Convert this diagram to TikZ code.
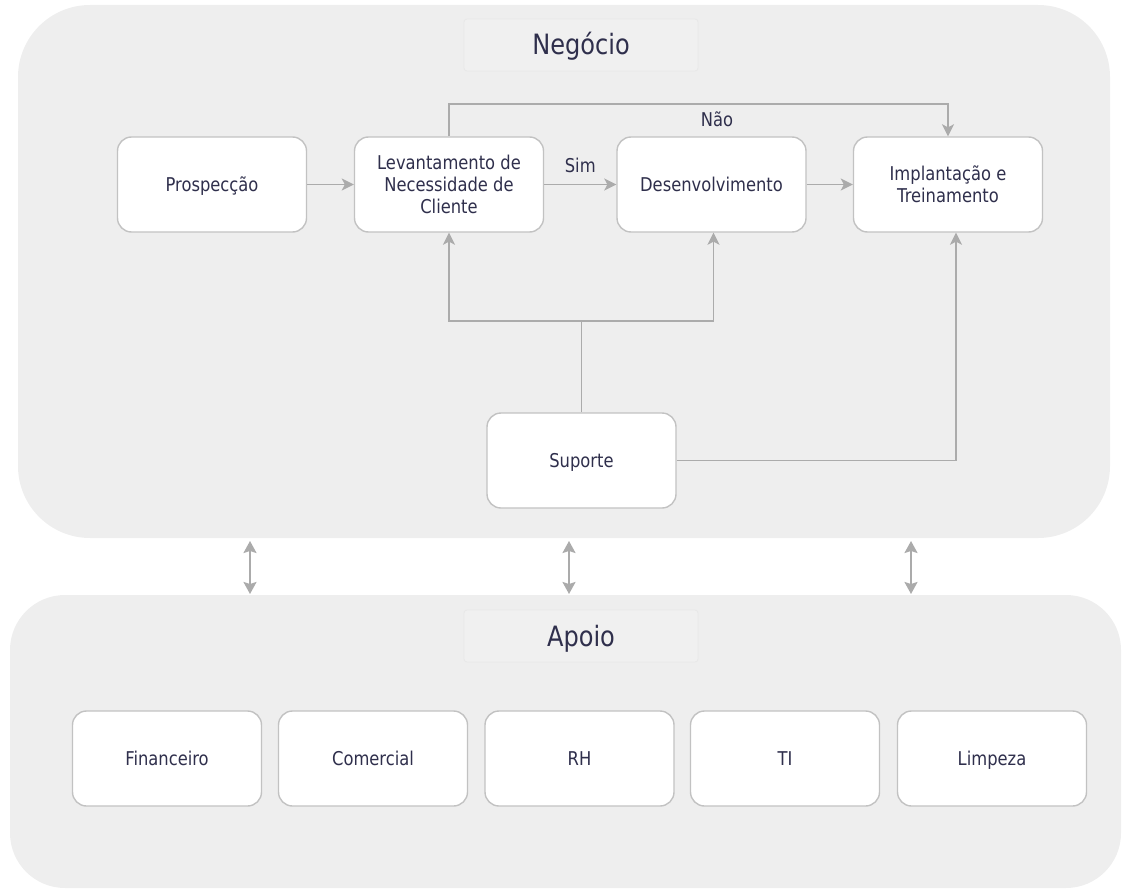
\documentclass[tikz,border=0pt]{standalone}
\usepackage{fontspec}
\setmainfont{DejaVu Sans}[FakeStretch=0.86]
\usetikzlibrary{arrows.meta}

\definecolor{areafill}{HTML}{EEEEEE}
\definecolor{boxline}{HTML}{C2C2C2}
\definecolor{linkgray}{HTML}{ABABAB}
\definecolor{ink}{HTML}{2F2F4C}

\tikzset{
  proc/.style={draw=boxline, line width=1.4pt, fill=white, rounded corners=14pt,
    minimum width=189pt, minimum height=95pt, inner sep=2pt, text=ink, align=center,
    font=\fontsize{19}{22}\selectfont},
  oneline/.style={proc, text height=14pt, text depth=0pt},
  titlebox/.style={draw=black!9, line width=0.8pt, fill=black!6, rounded corners=3pt,
    minimum width=234pt, minimum height=52pt, text=ink, text height=20pt, text depth=0pt,
    font=\fontsize{28}{32}\selectfont},
  lbl/.style={text=ink, font=\fontsize{19}{22}\selectfont, inner sep=1pt},
  plain/.style={draw=linkgray, line width=1.8pt},
  link/.style={plain, -{Stealth[length=12pt,width=12pt,inset=3pt]}},
  dlink/.style={plain, {Stealth[length=12pt,width=13pt,inset=2pt]}-{Stealth[length=12pt,width=13pt,inset=2pt]}}
}

\begin{document}
\begin{tikzpicture}[x=1pt, y=-1pt]

\useasboundingbox (0,0) rectangle (1124,891);

% Areas
\fill[areafill, rounded corners=72pt] (18,5) rectangle (1110,538);
\fill[areafill, rounded corners=55pt] (10,595) rectangle (1121,888);

\node[titlebox] (negocio) at (581,45) {Negócio};
\node[titlebox] (apoio)   at (581,636) {Apoio};

% Negocio
\node[oneline] (prosp)   at (212,184.5) {Prospecção};
\node[proc] (levant)  at (449,184.5) {Levantamento de\\Necessidade de\\Cliente};
\node[oneline] (desenv)  at (711.5,184.5) {Desenvolvimento};
\node[proc] (implant) at (948,184.5) {Implantação e\\Treinamento};
\node[oneline] (suporte) at (581.5,460.5) {Suporte};

\draw[link] (prosp) -- (levant);
\draw[link] (levant) -- node[lbl, above=10pt] (sim) {Sim} (desenv);
\draw[link] (desenv) -- (implant);

\draw[link] (levant.north) -- ++(0,-32) -| (implant.north);
\node[lbl] (nao) at (717,119) {Não};

\draw[plain] (suporte.north) -- ++(0,-91) coordinate (fork);
\draw[link] (fork) -| (levant.south);
\draw[link] (fork) -| ([xshift=2pt]desenv.south);
\draw[link] (suporte.east) -| ([xshift=8pt]implant.south);

% Between areas
\coordinate (up1) at (250,541);  \coordinate (dn1) at (250,594);
\coordinate (up2) at (569,541);  \coordinate (dn2) at (569,594);
\coordinate (up3) at (911,541);  \coordinate (dn3) at (911,594);
\draw[dlink] (up1) -- (dn1);
\draw[dlink] (up2) -- (dn2);
\draw[dlink] (up3) -- (dn3);

% Apoio
\node[oneline] (finan)  at (167,758.5) {Financeiro};
\node[oneline] (comerc) at (373,758.5) {Comercial};
\node[oneline] (rh)     at (579.5,758.5) {RH};
\node[oneline] (ti)     at (785,758.5) {TI};
\node[oneline] (limpeza) at (992,758.5) {Limpeza};

\end{tikzpicture}
\end{document}
